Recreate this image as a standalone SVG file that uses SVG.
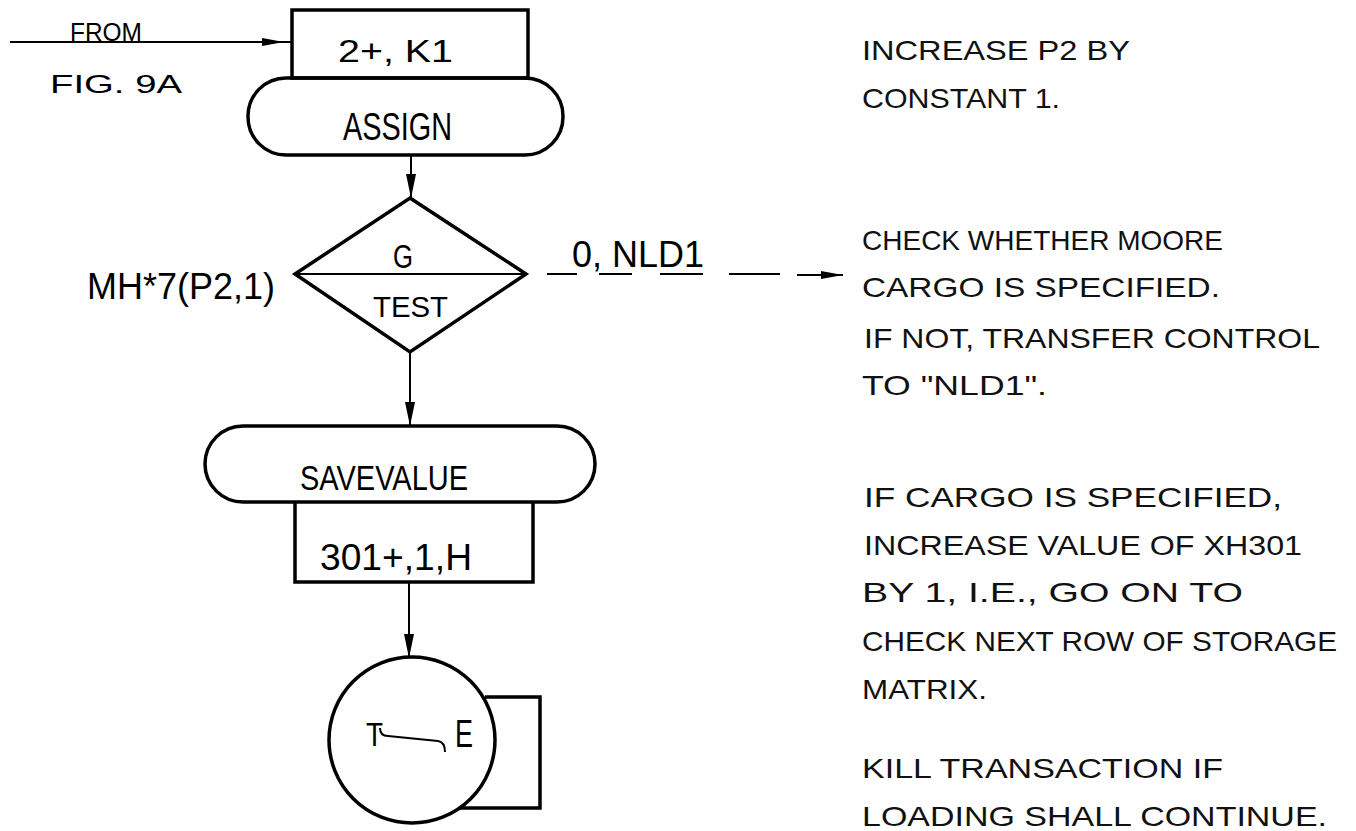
<svg xmlns="http://www.w3.org/2000/svg" width="1356" height="831" viewBox="0 0 1356 831">
<style>
.shape{fill:none;stroke:#000;stroke-width:3.5}
.thin{fill:none;stroke:#000;stroke-width:2}
.lbl{font-family:"Liberation Sans",Arial,sans-serif;fill:#000}
.cond{font-family:"Liberation Sans Narrow","Liberation Sans",Arial,sans-serif;fill:#000}
.note{font-family:"Liberation Sans",Arial,sans-serif;font-size:28px;fill:#111}
</style>
<defs>
<marker id="ah" viewBox="0 0 24 10" refX="24" refY="5" markerWidth="24" markerHeight="10" markerUnits="userSpaceOnUse" orient="auto">
<path d="M0,0 L24,5 L0,10 Z" fill="#000"/>
</marker>
<marker id="ahs" viewBox="0 0 22 10" refX="22" refY="5" markerWidth="22" markerHeight="10" markerUnits="userSpaceOnUse" orient="auto">
<path d="M0,1 L22,5 L0,9 Z" fill="#000"/>
</marker>
</defs>
<rect width="1356" height="831" fill="#fff"/>

<g id="connectors">
<line class="thin" x1="10" y1="42" x2="284" y2="42" marker-end="url(#ahs)"/>
<line class="thin" x1="283" y1="42" x2="292" y2="42"/>
<line class="thin" x1="411" y1="155" x2="411" y2="198" marker-end="url(#ah)"/>
<line class="thin" x1="410" y1="352" x2="410" y2="426" marker-end="url(#ah)"/>
<line class="thin" x1="409" y1="582" x2="409" y2="658" marker-end="url(#ah)"/>
<path class="thin" d="M547,274 L577,274 M599,274 L632,274 M660,274 L703,274 M729,274 L780,274"/>
<line class="thin" x1="797" y1="275" x2="843" y2="275" marker-end="url(#ahs)"/>
</g>

<g id="from-label">
<text class="lbl" x="70" y="41" font-size="25" textLength="72" lengthAdjust="spacingAndGlyphs">FROM</text>
<text class="lbl" x="50" y="93" font-size="26" textLength="132" lengthAdjust="spacingAndGlyphs">FIG. 9A</text>
</g>

<g id="assign-operand">
<rect class="shape" x="292" y="10" width="236" height="68"/>
<text class="lbl" x="338" y="62" font-size="31" textLength="115" lengthAdjust="spacingAndGlyphs">2+, K1</text>
</g>

<g id="assign">
<rect class="shape" x="248" y="78" width="315" height="77" rx="38" ry="38"/>
<text class="cond" x="343" y="140" font-size="38" textLength="109" lengthAdjust="spacingAndGlyphs">ASSIGN</text>
</g>

<g id="test">
<polygon class="shape" points="410,198 526,274 410,352 295,274" stroke-linejoin="miter"/>
<line class="thin" x1="295" y1="274" x2="526" y2="274"/>
<text class="cond" x="393" y="268" font-size="34" textLength="20" lengthAdjust="spacingAndGlyphs">G</text>
<text class="lbl" x="373" y="317" font-size="30" textLength="75" lengthAdjust="spacingAndGlyphs">TEST</text>
<text class="cond" x="87" y="299" font-size="37" textLength="188" lengthAdjust="spacingAndGlyphs">MH*7(P2,1)</text>
<text class="cond" x="572" y="267" font-size="37" textLength="132" lengthAdjust="spacingAndGlyphs">0, NLD1</text>
</g>

<g id="savevalue">
<rect class="shape" x="205" y="426" width="390" height="76" rx="38" ry="38"/>
<text class="cond" x="300" y="490" font-size="35" textLength="168" lengthAdjust="spacingAndGlyphs">SAVEVALUE</text>
</g>

<g id="savevalue-operand">
<path class="shape" d="M295,502 L295,582 L533,582 L533,502"/>
<text class="cond" x="320" y="570" font-size="37" textLength="152" lengthAdjust="spacingAndGlyphs">301+,1,H</text>
</g>

<g id="terminate">
<circle class="shape" cx="412" cy="740" r="83"/>
<path class="shape" d="M485,697 L540,697 L540,808 L459,808"/>
<text class="cond" x="366" y="746" font-size="34" textLength="17" lengthAdjust="spacingAndGlyphs">T</text>
<text class="cond" x="455" y="747" font-size="38" textLength="18" lengthAdjust="spacingAndGlyphs">E</text>
<path class="thin" d="M380,728 Q380,736 388,736 L438,741 Q445,742 445,752"/>
</g>

<g id="notes">
<text class="note" x="862" y="60" textLength="268" lengthAdjust="spacingAndGlyphs">INCREASE P2 BY</text>
<text class="note" x="862" y="108" textLength="198" lengthAdjust="spacingAndGlyphs">CONSTANT 1.</text>
<text class="note" x="862" y="250" textLength="361" lengthAdjust="spacingAndGlyphs">CHECK WHETHER MOORE</text>
<text class="note" x="862" y="297" textLength="358" lengthAdjust="spacingAndGlyphs">CARGO IS SPECIFIED.</text>
<text class="note" x="864" y="348" textLength="456" lengthAdjust="spacingAndGlyphs">IF NOT, TRANSFER CONTROL</text>
<text class="note" x="862" y="395" textLength="185" lengthAdjust="spacingAndGlyphs">TO "NLD1".</text>
<text class="note" x="864" y="507" textLength="418" lengthAdjust="spacingAndGlyphs">IF CARGO IS SPECIFIED,</text>
<text class="note" x="864" y="555" textLength="438" lengthAdjust="spacingAndGlyphs">INCREASE VALUE OF XH301</text>
<text class="note" x="862" y="602" textLength="381" lengthAdjust="spacingAndGlyphs">BY 1, I.E., GO ON TO</text>
<text class="note" x="862" y="651" textLength="475" lengthAdjust="spacingAndGlyphs">CHECK NEXT ROW OF STORAGE</text>
<text class="note" x="862" y="699" textLength="125" lengthAdjust="spacingAndGlyphs">MATRIX.</text>
<text class="note" x="862" y="778" textLength="361" lengthAdjust="spacingAndGlyphs">KILL TRANSACTION IF</text>
<text class="note" x="862" y="826" textLength="465" lengthAdjust="spacingAndGlyphs">LOADING SHALL CONTINUE.</text>
</g>
</svg>
